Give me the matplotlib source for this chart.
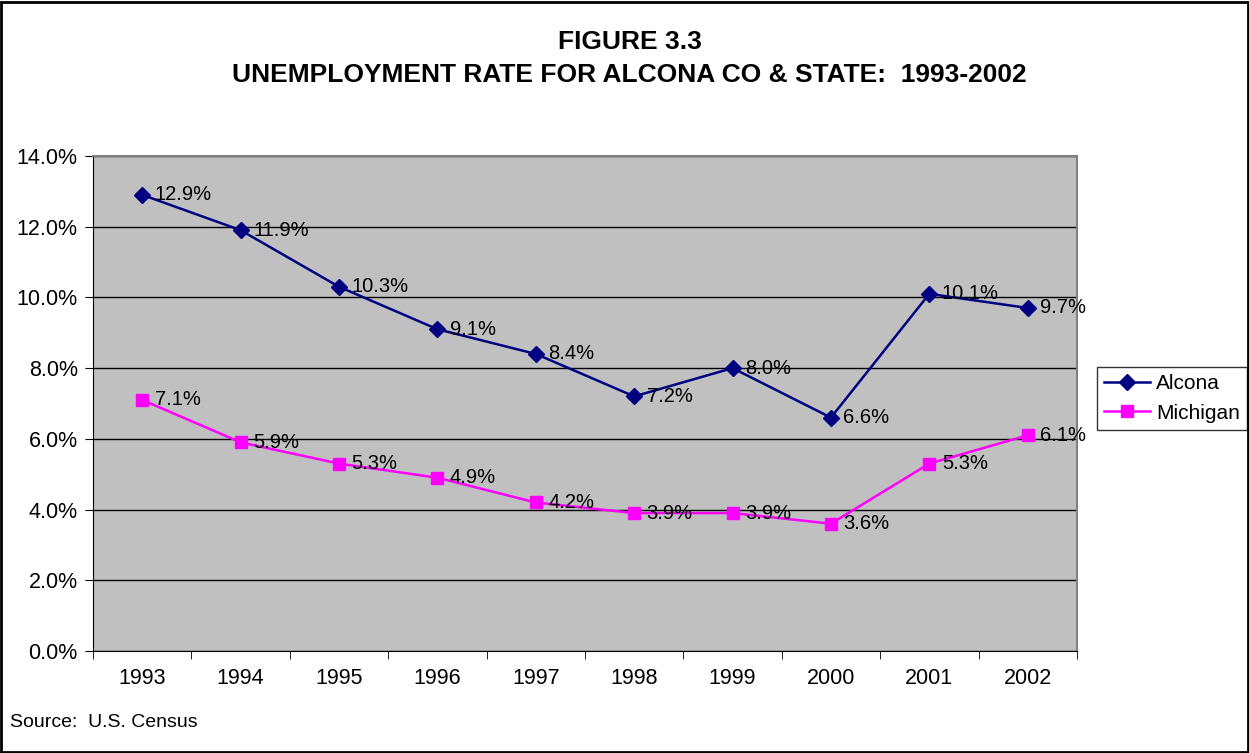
import matplotlib.pyplot as plt
from matplotlib.patches import Rectangle

plt.rcParams['font.family'] = ['Liberation Sans', 'DejaVu Sans']

years = ['1993', '1994', '1995', '1996', '1997', '1998', '1999', '2000', '2001', '2002']
alcona = [12.9, 11.9, 10.3, 9.1, 8.4, 7.2, 8.0, 6.6, 10.1, 9.7]
michigan = [7.1, 5.9, 5.3, 4.9, 4.2, 3.9, 3.9, 3.6, 5.3, 6.1]
y_ticks = [0, 2, 4, 6, 8, 10, 12, 14]

fig = plt.figure(figsize=(12.49, 7.53), dpi=100)
ax = fig.add_axes([0.0745, 0.1355, 0.7877, 0.6574])
ax.set_facecolor('#C0C0C0')

x = list(range(len(years)))
ax.plot(x, alcona, color='#000080', marker='D', markersize=8, linewidth=1.8, label='Alcona', zorder=3)
ax.plot(x, michigan, color='#FF00FF', marker='s', markersize=9, linewidth=1.8, label='Michigan', zorder=3)

for xi, v in zip(x, alcona):
    ax.annotate(f'{v:.1f}%', (xi, v), xytext=(9, 0), textcoords='offset points',
                va='center', ha='left', fontsize=14.5, zorder=4)
for xi, v in zip(x, michigan):
    ax.annotate(f'{v:.1f}%', (xi, v), xytext=(9, 0), textcoords='offset points',
                va='center', ha='left', fontsize=14.5, zorder=4)

ax.set_xlim(-0.5, len(years) - 0.5)
ax.set_ylim(0, 14)
ax.set_yticks(y_ticks)
ax.set_yticklabels([f'{t:.1f}%' for t in y_ticks], fontsize=15.5)
ax.set_xticks(x)
ax.set_xticklabels(years, fontsize=15.5)
ax.tick_params(axis='x', length=0, pad=12)
ax.set_xticks([i - 0.5 for i in range(len(years) + 1)], minor=True)
ax.tick_params(axis='x', which='minor', length=6, color='black', direction='out')
ax.tick_params(axis='y', length=6, color='black', direction='out', pad=5)
ax.grid(axis='y', color='black', linewidth=1)
ax.set_axisbelow(True)

for side in ['top', 'right']:
    ax.spines[side].set_color('#808080')
    ax.spines[side].set_linewidth(1.5)
for side in ['left', 'bottom']:
    ax.spines[side].set_color('black')

fig.text(0.504, 0.944, 'FIGURE 3.3', ha='center', va='center', fontsize=19, fontweight='bold')
fig.text(0.504, 0.900, 'UNEMPLOYMENT RATE FOR ALCONA CO & STATE:  1993-2002',
         ha='center', va='center', fontsize=19, fontweight='bold')

leg = ax.legend(loc='center left', bbox_to_anchor=(0.878, 0.471), bbox_transform=fig.transFigure,
                fontsize=15, frameon=True, fancybox=False, handlelength=2.2, borderpad=0.35,
                labelspacing=0.5, handletextpad=0.3, borderaxespad=0)
leg.get_frame().set_edgecolor('black')
leg.get_frame().set_linewidth(1)

fig.text(0.008, 0.041, 'Source:  U.S. Census', ha='left', va='center', fontsize=14)

fig.patches.append(Rectangle((0.001, 0.001), 0.998, 0.997, transform=fig.transFigure,
                             fill=False, edgecolor='black', linewidth=2))

fig.savefig('out.png', dpi=100)
